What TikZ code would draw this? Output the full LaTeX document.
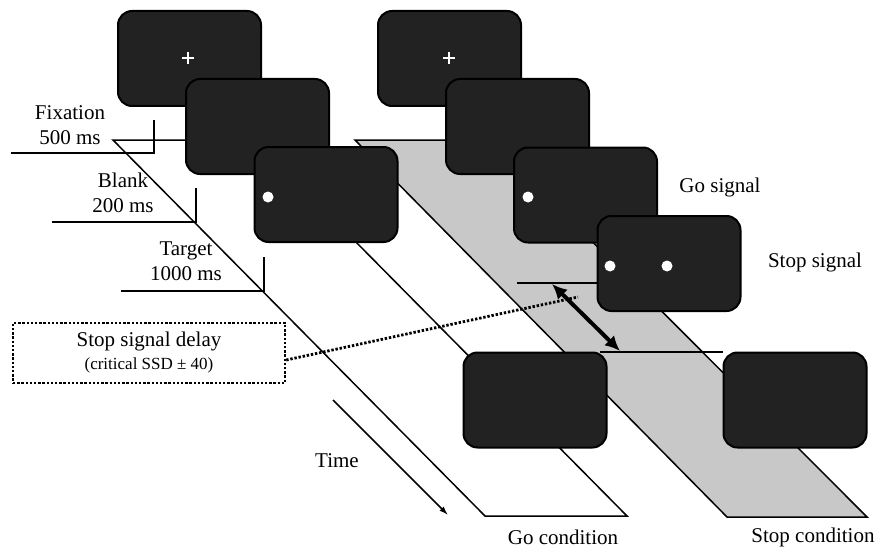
\documentclass[tikz,border=0pt]{standalone}
\usepackage{fontspec}
\setmainfont{Liberation Serif}
\usetikzlibrary{arrows.meta}
\definecolor{screenfill}{HTML}{222222}
\definecolor{lanegray}{HTML}{C8C8C8}
\begin{document}
\begin{tikzpicture}[x=1pt,y=-1pt,
  screen/.style={draw=black, line width=2pt, fill=screenfill, rounded corners=14pt,
                 minimum width=143pt, minimum height=95pt, inner sep=0pt},
  spot/.style={circle, fill=white, inner sep=0pt, minimum size=11pt},
  crossmark/.style={draw=white, line width=2.4pt},
  lbl/.style={font=\fontsize{21}{25}\selectfont, inner sep=0pt, align=center},
  rule/.style={line width=1.5pt},
  bar/.style={line width=2.4pt},
  dots/.style={dash pattern=on 2.4pt off 1.8pt},
  ssdbox/.style={draw, line width=2.4pt, dots,
                 minimum width=272pt, minimum height=60pt, inner sep=0pt, align=center,
                 font=\fontsize{21}{23}\selectfont},
]
\useasboundingbox (0,0) rectangle (879,551);

% lane corners
\coordinate (g1) at (113,140); \coordinate (g2) at (255,140);
\coordinate (g3) at (627,516); \coordinate (g4) at (485,516);
\coordinate (p1) at (355,140); \coordinate (p2) at (491,140);
\coordinate (p3) at (867,517); \coordinate (p4) at (727,517);

% go lane (outline) and stop lane (grey)
\draw[rule] (g1) -- (g2) -- (g3) -- (g4) -- cycle;
\draw[rule, fill=lanegray] (p1) -- (p2) -- (p3) -- (p4) -- cycle;

% duration brackets on the time axis
\coordinate (fa) at (154,120); \coordinate (fb) at (154,153); \coordinate (fc) at (11,153);
\coordinate (ba) at (196,188); \coordinate (bb) at (196,222); \coordinate (bc) at (52,222);
\coordinate (ta) at (264,257); \coordinate (tb) at (264,291); \coordinate (tc) at (121,291);
\draw[rule] (fa) -- (fb) -- (fc);
\draw[rule] (ba) -- (bb) -- (bc);
\draw[rule] (ta) -- (tb) -- (tc);

\node[lbl] (fix) at (70,125) {Fixation\\500 ms};
\node[lbl] (blank) at (123,193) {Blank\\200 ms};
\node[lbl] (target) at (186,261) {Target\\1000 ms};

% time arrow
\coordinate (t0) at (333,400); \coordinate (t1) at (448,515);
\draw[rule, -{Latex[length=9pt,width=6pt]}] (t0) -- (t1);
\node[lbl] (time) at (337,461) {Time};

% stop signal delay
\node[ssdbox] (ssd) at (149,353) {Stop signal delay\\{\fontsize{17}{20}\selectfont (critical SSD ± 40)}};
\coordinate (ssdend) at (578,297);
\draw[line width=2.8pt, dots] ([yshift=-7pt]ssd.east) -- (ssdend);

\coordinate (h1a) at (517,283); \coordinate (h1b) at (600,283);
\coordinate (h2a) at (600,352); \coordinate (h2b) at (723,352);
\draw[bar] (h1a) -- (h1b);
\draw[bar] (h2a) -- (h2b);
\coordinate (da) at (552,284); \coordinate (db) at (620,351);
\draw[line width=4pt, {Latex[length=15pt,width=14pt]}-{Latex[length=15pt,width=14pt]}] (da) -- (db);

% screens, left sequence
\node[screen] (s1) at (189.5,58.5) {};
\draw[crossmark] (182,58) -- (194,58); \draw[crossmark] (188,52) -- (188,64);
\node[screen] (s2) at (257.5,126.5) {};
\node[screen] (s3) at (326,194.5) {};
\node[spot] (s3dot) at (268,197) {};

% screens, right sequence
\node[screen] (r1) at (449.5,58.5) {};
\draw[crossmark] (443,58) -- (455,58); \draw[crossmark] (449,52) -- (449,64);
\node[screen] (r2) at (517.5,126.5) {};
\node[screen] (r3) at (585.5,195) {};
\node[spot] (r3dot) at (528,197) {};
\node[screen] (r4) at (669,263.5) {};
\node[spot] (r4dota) at (610,266) {};
\node[spot] (r4dotb) at (667,266) {};

% response screens
\node[screen] (gofin) at (535,400) {};
\node[screen] (stopfin) at (795,400) {};

\node[lbl] (gosig) at (720,187) {Go signal};
\node[lbl] (stopsig) at (815,262) {Stop signal};
\node[lbl] (gocond) at (563,537) {Go condition};
\node[lbl] (stopcond) at (813,537) {Stop condition};
\end{tikzpicture}
\end{document}
